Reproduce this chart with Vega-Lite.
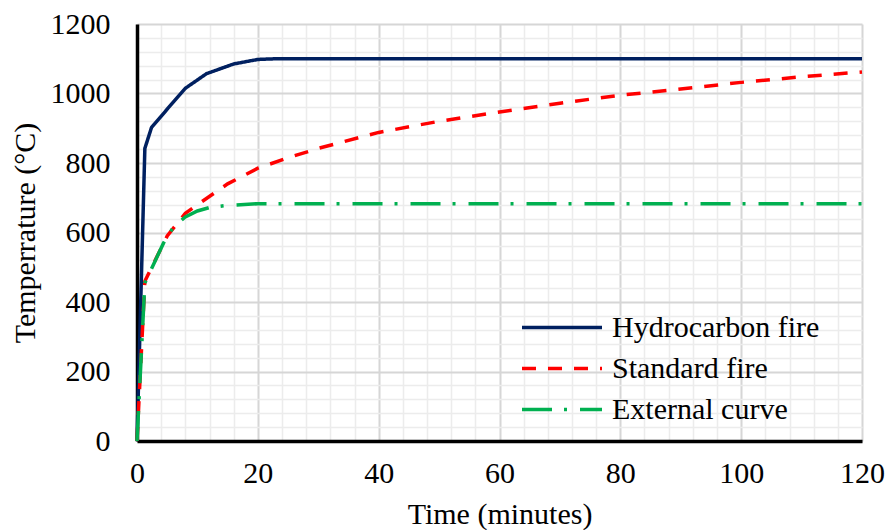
{
  "$schema": "https://vega.github.io/schema/vega-lite/v6.json",
  "width": 725,
  "height": 417,
  "autosize": {"type": "none"},
  "padding": {"left": 137, "top": 24, "right": 25, "bottom": 89},
  "background": "white",
  "config": {
    "font": "Liberation Serif",
    "view": {"stroke": null}
  },
  "data": {
    "values": [
      {"series": "Hydrocarbon fire", "t": 0, "temp": 0},
      {"series": "Hydrocarbon fire", "t": 1.3, "temp": 842},
      {"series": "Hydrocarbon fire", "t": 2.4, "temp": 902},
      {"series": "Hydrocarbon fire", "t": 5, "temp": 955},
      {"series": "Hydrocarbon fire", "t": 8, "temp": 1015},
      {"series": "Hydrocarbon fire", "t": 11.5, "temp": 1057},
      {"series": "Hydrocarbon fire", "t": 16, "temp": 1085},
      {"series": "Hydrocarbon fire", "t": 20, "temp": 1098},
      {"series": "Hydrocarbon fire", "t": 23, "temp": 1100},
      {"series": "Hydrocarbon fire", "t": 120, "temp": 1100},
      {"series": "Standard fire", "t": 0, "temp": 0},
      {"series": "Standard fire", "t": 1.3, "temp": 460},
      {"series": "Standard fire", "t": 5, "temp": 590},
      {"series": "Standard fire", "t": 8, "temp": 655},
      {"series": "Standard fire", "t": 10, "temp": 680},
      {"series": "Standard fire", "t": 15, "temp": 740},
      {"series": "Standard fire", "t": 20, "temp": 785},
      {"series": "Standard fire", "t": 25, "temp": 815},
      {"series": "Standard fire", "t": 30, "temp": 842},
      {"series": "Standard fire", "t": 40, "temp": 888},
      {"series": "Standard fire", "t": 50, "temp": 920},
      {"series": "Standard fire", "t": 60, "temp": 947},
      {"series": "Standard fire", "t": 70, "temp": 972},
      {"series": "Standard fire", "t": 80, "temp": 995},
      {"series": "Standard fire", "t": 90, "temp": 1013},
      {"series": "Standard fire", "t": 100, "temp": 1032},
      {"series": "Standard fire", "t": 110, "temp": 1048},
      {"series": "Standard fire", "t": 120, "temp": 1062},
      {"series": "External curve", "t": 0, "temp": 0},
      {"series": "External curve", "t": 1.3, "temp": 455},
      {"series": "External curve", "t": 4.4, "temp": 570},
      {"series": "External curve", "t": 6, "temp": 615},
      {"series": "External curve", "t": 8, "temp": 645},
      {"series": "External curve", "t": 10, "temp": 662},
      {"series": "External curve", "t": 12, "temp": 672},
      {"series": "External curve", "t": 15, "temp": 678},
      {"series": "External curve", "t": 20, "temp": 683},
      {"series": "External curve", "t": 120, "temp": 683}
    ]
  },
  "mark": {"type": "line", "strokeWidth": 3.5, "strokeCap": "butt", "clip": false},
  "encoding": {
    "x": {
      "field": "t",
      "type": "quantitative",
      "scale": {"domain": [0, 120], "nice": false, "zero": true},
      "axis": {
        "title": "Time (minutes)",
        "titleFontSize": 30,
        "titleFontWeight": "normal",
        "titleColor": "#000000",
        "titlePadding": 11,
        "values": [0,4,8,12,16,20,24,28,32,36,40,44,48,52,56,60,64,68,72,76,80,84,88,92,96,100,104,108,112,116,120],
        "labelExpr": "datum.value % 20 === 0 ? datum.label : ''",
        "format": "d",
        "labelFontSize": 30,
        "labelColor": "#000000",
        "labelPadding": 17,
        "labelFlush": false,
        "ticks": false,
        "domainColor": "#000000",
        "domainWidth": 3.5,
        "grid": true,
        "gridColor": {"condition": {"test": "datum.value % 20 === 0", "value": "#d6d6d6"}, "value": "#ececec"},
        "gridWidth": {"condition": {"test": "datum.value % 20 === 0", "value": 2}, "value": 1.5}
      }
    },
    "y": {
      "field": "temp",
      "type": "quantitative",
      "scale": {"domain": [0, 1200], "nice": false},
      "axis": {
        "title": "Temperrature (°C)",
        "titleFontSize": 30,
        "titleFontWeight": "normal",
        "titleColor": "#000000",
        "titlePadding": 10,
        "values": [0,40,80,120,160,200,240,280,320,360,400,440,480,520,560,600,640,680,720,760,800,840,880,920,960,1000,1040,1080,1120,1160,1200],
        "labelExpr": "datum.value % 200 === 0 ? datum.label : ''",
        "format": "d",
        "labelFontSize": 30,
        "labelColor": "#000000",
        "labelPadding": 27,
        "labelFlush": false,
        "ticks": false,
        "domainColor": "#000000",
        "domainWidth": 3.5,
        "grid": true,
        "gridColor": {"condition": {"test": "datum.value % 200 === 0", "value": "#d6d6d6"}, "value": "#ececec"},
        "gridWidth": {"condition": {"test": "datum.value % 200 === 0", "value": 2}, "value": 1.5}
      }
    },
    "color": {
      "field": "series",
      "type": "nominal",
      "sort": ["Hydrocarbon fire", "Standard fire", "External curve"],
      "scale": {"domain": ["Hydrocarbon fire", "Standard fire", "External curve"], "range": ["#002060", "#ff0000", "#00b050"]},
      "legend": {
        "title": null,
        "orient": "none",
        "legendX": 383,
        "legendY": 287,
        "padding": 0,
        "labelFontSize": 30,
        "labelColor": "#000000",
        "labelOffset": 8,
        "labelLimit": 400,
        "symbolType": "stroke",
        "symbolSize": 6400,
        "symbolStrokeWidth": 3.5,
        "clipHeight": 33,
        "rowPadding": 8
      }
    },
    "strokeDash": {
      "field": "series",
      "type": "nominal",
      "sort": ["Hydrocarbon fire", "Standard fire", "External curve"],
      "scale": {"domain": ["Hydrocarbon fire", "Standard fire", "External curve"], "range": [[1, 0], [14, 12], [30, 12, 3, 13]]},
      "legend": {
        "title": null,
        "orient": "none",
        "legendX": 383,
        "legendY": 287,
        "padding": 0,
        "labelFontSize": 30,
        "labelColor": "#000000",
        "labelOffset": 8,
        "labelLimit": 400,
        "symbolType": "stroke",
        "symbolSize": 6400,
        "symbolStrokeWidth": 3.5,
        "clipHeight": 33,
        "rowPadding": 8
      }
    }
  }
}
